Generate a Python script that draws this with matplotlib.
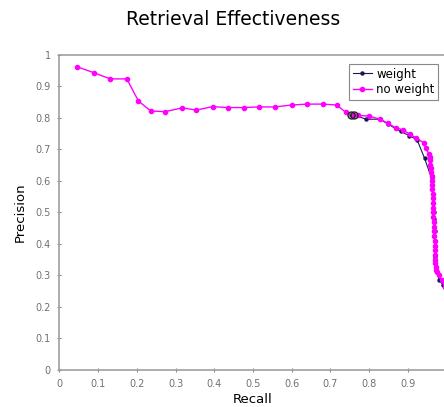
import matplotlib
matplotlib.use("Agg")
import matplotlib.pyplot as plt

# recall / precision
nw_recall = [0.044, 0.088, 0.131, 0.174, 0.204, 0.236, 0.273, 0.317, 0.354, 0.396,
             0.435, 0.476, 0.517, 0.557, 0.600, 0.640, 0.681, 0.717, 0.740, 0.758,
             0.772, 0.800, 0.829, 0.849, 0.869, 0.889, 0.906, 0.923, 0.943, 0.947,
             0.956, 0.957, 0.958, 0.959, 0.960, 0.961, 0.962, 0.963, 0.964, 0.964,
             0.965, 0.965, 0.966, 0.966, 0.967, 0.967, 0.968, 0.968, 0.969, 0.969,
             0.970, 0.970, 0.971, 0.971, 0.972, 0.972, 0.973, 0.973, 0.976, 0.981,
             0.988, 0.996, 1.003]
nw_precision = [0.963, 0.944, 0.924, 0.924, 0.854, 0.822, 0.820, 0.832, 0.825, 0.836,
                0.833, 0.833, 0.835, 0.835, 0.841, 0.844, 0.844, 0.841, 0.818, 0.808,
                0.808, 0.806, 0.796, 0.783, 0.769, 0.762, 0.748, 0.736, 0.720, 0.704,
                0.685, 0.675, 0.665, 0.652, 0.640, 0.628, 0.615, 0.600, 0.588, 0.575,
                0.560, 0.545, 0.530, 0.515, 0.500, 0.485, 0.470, 0.455, 0.440, 0.425,
                0.410, 0.395, 0.380, 0.365, 0.350, 0.338, 0.327, 0.317, 0.310, 0.300,
                0.285, 0.264, 0.250]

w_recall = [0.755, 0.762, 0.792, 0.829, 0.850, 0.882, 0.905, 0.925, 0.944, 0.962,
            0.966, 0.967, 0.968, 0.969, 0.970, 0.972, 0.981, 0.992, 1.003]
w_precision = [0.808, 0.810, 0.796, 0.796, 0.780, 0.757, 0.744, 0.730, 0.672, 0.609,
               0.560, 0.530, 0.500, 0.480, 0.440, 0.360, 0.286, 0.270, 0.250]

# the two overlapping open circles where the weighted run starts
circ_recall = [0.755, 0.762]
circ_precision = [0.808, 0.810]

ticks = [i / 10 for i in range(11)]
x_labels = ["0"] + ["0.%d" % i for i in range(1, 10)] + [""]   # "1" falls off the right edge
y_labels = ["0"] + ["0.%d" % i for i in range(1, 10)] + ["1"]

fig = plt.figure(figsize=(4.44, 4.07), dpi=100)
ax = fig.add_axes([0.134, 0.091, 0.871, 0.774])

ax.plot(w_recall, w_precision, color="#1a1a50", lw=0.8, marker="o", ms=2.2, label="weight", zorder=2)
ax.plot(nw_recall, nw_precision, color="#ff00ff", lw=1.0, marker="o", ms=3.0, label="no weight", zorder=3)
ax.plot(circ_recall, circ_precision, ls="none", marker="o", ms=5, mfc="none", mec="#222222", mew=1.0, zorder=4)

ax.set_xlim(0, 1)
ax.set_ylim(0, 1)
ax.set_xticks(ticks)
ax.set_yticks(ticks)
ax.set_xticklabels(x_labels)
ax.set_yticklabels(y_labels)
ax.tick_params(labelsize=7, labelcolor="#707070", color="#888888", length=2.5,
               direction="inout", width=0.8, pad=5)
for s in ax.spines.values():
    s.set_color("#a0a0a0")
    s.set_linewidth(1.2)

ax.set_xlabel("Recall", fontsize=9.5, labelpad=3)
ax.set_ylabel("Precision", fontsize=9.5, labelpad=6)
fig.suptitle("Retrieval Effectiveness", fontsize=13.5, x=0.525, y=0.975)

leg = ax.legend(loc="upper right", bbox_to_anchor=(0.995, 0.99), fontsize=8.5,
                handlelength=1.6, handletextpad=0.4, borderpad=0.3, labelspacing=0.25,
                fancybox=False, edgecolor="#888888", framealpha=1)
leg.get_frame().set_linewidth(0.8)

fig.savefig("out.png", dpi=100)
